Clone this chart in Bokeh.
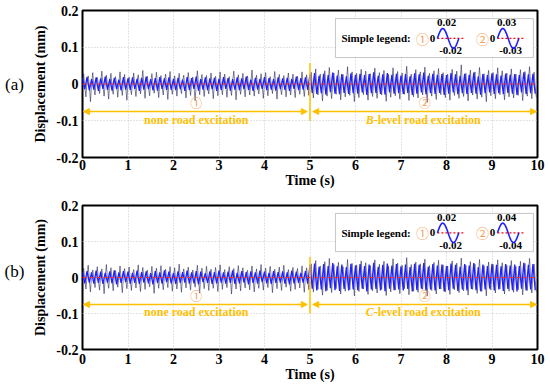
import numpy as np
from bokeh.plotting import figure
from bokeh.models import (Range1d, Label, Span, Arrow, NormalHead, FixedTicker,
                          CustomJSTickFormatter, BoxAnnotation)
from bokeh.layouts import column, row
from bokeh.embed import file_html
from bokeh.resources import INLINE

# ---------------- data (displacement in micrometres) ----------------
DARK_RATE = 40   # samples per second, thin dark trace
BLUE_RATE = 20   # samples per second, blue trace

# panel (a) dark trace, 0-5 s (no road excitation)
a_dark_1 = [3,28,-6,-35, 8,22,-4,-48, 2,31,-9,-30, 6,18,-3,-26, 4,35,-7,-33, 1,24,-5,-41, 7,29,-8,-28, 3,20,-2,-36, 5,33,-6,-31, 2,26,-9,-44,
            6,19,-4,-29, 3,30,-7,-34, 8,25,-3,-27, 1,37,-6,-39, 4,21,-8,-32, 7,28,-2,-25, 2,32,-5,-37, 5,23,-9,-30, 3,27,-4,-42, 6,34,-7,-28,
            1,22,-3,-33, 4,29,-6,-26, 8,24,-8,-38, 2,31,-4,-31, 5,19,-7,-45, 3,36,-2,-29, 7,26,-5,-34, 1,23,-9,-27, 4,30,-3,-40, 6,21,-6,-32,
            2,33,-8,-29, 5,27,-4,-36, 3,20,-7,-31, 8,35,-2,-43, 1,25,-5,-28, 4,29,-9,-35, 6,22,-3,-30, 2,38,-6,-33, 5,24,-8,-27, 3,28,-4,-39,
            7,31,-7,-32, 1,20,-2,-26, 4,34,-5,-41, 6,26,-9,-29, 2,23,-3,-35, 5,30,-6,-30, 3,27,-8,-37, 8,21,-4,-28, 1,33,-7,-34, 4,25,-2,-31]
# panel (a) dark trace, 5-10 s (B-level road)
a_dark_2 = [4,32,-8,-38, 7,41,-5,-30, 2,27,-10,-46, 9,36,-4,-33, 5,45,-7,-40, 3,30,-9,-28, 8,38,-3,-43, 1,26,-6,-35, 6,47,-8,-31, 4,33,-5,-48,
            7,29,-10,-37, 2,40,-4,-29, 9,35,-7,-44, 5,28,-3,-34, 3,43,-9,-39, 8,31,-6,-30, 1,37,-5,-47, 6,26,-8,-36, 4,44,-4,-32, 7,34,-10,-41,
            2,30,-7,-28, 9,48,-3,-45, 5,27,-6,-35, 3,39,-9,-38, 8,33,-5,-30, 1,46,-8,-50, 6,29,-4,-33, 4,36,-10,-42, 7,42,-7,-29, 2,31,-3,-37,
            9,27,-6,-44, 5,40,-9,-31, 3,35,-5,-39, 8,52,-8,-34, 1,29,-4,-46, 6,38,-10,-30, 4,33,-7,-41, 7,45,-3,-36, 2,28,-6,-48, 9,37,-9,-32,
            5,31,-5,-40, 3,44,-8,-29, 8,36,-4,-43, 1,30,-10,-35, 6,41,-7,-38, 4,27,-3,-31, 7,39,-6,-45, 2,34,-9,-33, 9,47,-5,-40, 5,32,-8,-36]
# panel (b) dark trace, 0-5 s
b_dark_1 = [5,26,-4,-32, 2,34,-8,-40, 7,21,-5,-28, 3,30,-9,-35, 6,24,-3,-45, 1,36,-7,-30, 4,27,-6,-37, 8,19,-2,-27, 2,32,-8,-42, 5,25,-4,-31,
            3,29,-7,-36, 7,22,-5,-29, 1,35,-9,-39, 4,28,-3,-33, 6,20,-6,-26, 2,31,-8,-44, 5,26,-4,-30, 8,33,-7,-34, 3,23,-2,-28, 6,30,-5,-38,
            1,27,-9,-32, 4,37,-3,-41, 7,24,-6,-29, 2,29,-8,-35, 5,21,-4,-27, 3,34,-7,-43, 8,26,-5,-31, 1,31,-2,-36, 4,23,-9,-30, 6,28,-6,-39,
            2,35,-3,-33, 5,22,-8,-28, 7,30,-4,-46, 3,25,-7,-32, 1,33,-5,-37, 6,27,-9,-29, 4,20,-3,-34, 8,32,-6,-40, 2,24,-8,-30, 5,36,-4,-35,
            3,26,-7,-28, 7,31,-2,-42, 1,23,-5,-31, 4,29,-9,-36, 6,34,-3,-27, 2,22,-6,-38, 5,28,-8,-33, 8,25,-4,-29, 3,32,-7,-41, 6,27,-5,-34]
# panel (b) dark trace, 5-10 s (C-level road)
b_dark_2 = [6,38,-9,-40, 3,47,-6,-33, 9,32,-11,-49, 5,44,-4,-36, 2,53,-8,-42, 8,36,-10,-31, 4,42,-5,-46, 7,30,-7,-38, 3,50,-9,-34, 9,39,-4,-51,
            5,35,-11,-39, 2,46,-6,-32, 8,41,-8,-47, 4,33,-5,-37, 6,49,-10,-43, 3,37,-7,-33, 9,45,-4,-50, 5,31,-9,-40, 2,52,-6,-35, 7,40,-11,-45,
            4,34,-8,-31, 8,55,-5,-48, 3,36,-7,-38, 6,43,-10,-41, 9,38,-4,-33, 5,51,-9,-52, 2,33,-6,-36, 7,42,-11,-46, 4,48,-8,-32, 8,35,-5,-40,
            3,32,-7,-47, 6,46,-10,-34, 9,40,-4,-42, 5,54,-9,-37, 2,34,-6,-49, 7,44,-11,-33, 4,37,-8,-44, 8,50,-5,-39, 3,33,-7,-51, 6,43,-10,-35,
            9,36,-4,-43, 5,49,-9,-32, 2,41,-6,-46, 7,34,-11,-38, 4,47,-8,-41, 8,31,-5,-34, 3,45,-7,-48, 6,39,-10,-36, 9,53,-4,-43, 5,37,-9,-39]

a_blue_1 = [16,-14,19,-17,13,-15,18,-19,15,-13,20,-16,14,-18,17,-14,12,-17,19,-15,
            15,-16,18,-13,14,-19,17,-15,20,-14,13,-17,16,-18,19,-13,15,-16,18,-15,
            14,-17,17,-14,12,-19,19,-16,16,-13,20,-18,13,-15,18,-17,15,-14,17,-19,
            14,-16,19,-13,16,-18,13,-15,18,-17,15,-14,20,-16,12,-19,17,-15,14,-13,
            19,-17,16,-15,13,-18,18,-14,15,-16,17,-19,14,-13,20,-17,16,-15,18,-16]
a_blue_2 = [26,-24,30,-27,22,-25,28,-29,24,-22,31,-26,23,-28,27,-24,21,-27,29,-25,
            25,-26,28,-23,24,-30,27,-25,32,-24,22,-27,26,-29,30,-23,25,-26,28,-25,
            23,-27,27,-24,21,-30,29,-26,26,-23,31,-28,22,-25,28,-27,25,-24,27,-30,
            24,-26,30,-23,26,-28,22,-25,28,-27,25,-24,31,-26,21,-29,27,-25,24,-23,
            29,-27,26,-25,23,-28,28,-24,25,-26,27,-30,24,-23,32,-27,26,-25,28,-26]
b_blue_1 = [15,-16,18,-14,14,-17,19,-15,16,-18,13,-14,17,-16,20,-19,14,-15,18,-13,
            16,-17,13,-15,19,-18,15,-14,17,-16,12,-19,18,-15,14,-17,20,-13,16,-16,
            13,-18,17,-15,15,-14,19,-17,14,-16,18,-19,16,-13,12,-15,17,-18,15,-16,
            19,-14,14,-17,16,-15,20,-18,13,-16,18,-14,15,-19,17,-15,14,-17,19,-13,
            16,-16,13,-18,18,-15,15,-14,17,-17,14,-19,19,-16,16,-15,13,-14,18,-17]
b_blue_2 = [34,-31,39,-36,30,-33,37,-38,32,-30,40,-35,31,-37,36,-32,29,-36,38,-33,
            33,-35,37,-31,32,-39,36,-33,41,-32,30,-36,35,-38,39,-31,33,-35,37,-33,
            31,-36,36,-32,29,-39,38,-35,35,-31,40,-37,30,-33,37,-36,33,-32,36,-39,
            32,-35,39,-31,35,-37,30,-33,37,-36,33,-32,40,-35,29,-38,36,-33,32,-31,
            38,-36,35,-33,31,-37,37,-32,33,-35,36,-39,32,-31,41,-36,35,-33,37,-35]

x_ticks = [0, 1, 2, 3, 4, 5, 6, 7, 8, 9, 10]
y_ticks = [-0.2, -0.1, 0, 0.1, 0.2]
split_time = 5
legend_amps = {"a": (0.02, 0.03), "b": (0.02, 0.04)}
road_levels = {"a": "B", "b": "C"}

GOLD = "#FFC000"
ORANGE = "#F5A05A"
SERIF = "Liberation Serif"
CJK = "Noto Sans CJK SC"
LETTER_W = 28


def make_letter(tag, height, y_frac):
    q = figure(width=LETTER_W, height=height, output_backend="svg", toolbar_location=None,
               x_range=Range1d(0, 1), y_range=Range1d(0, 1),
               x_axis_location=None, y_axis_location=None,
               min_border_left=0, min_border_right=0, min_border_top=0, min_border_bottom=0)
    q.xgrid.visible = False
    q.ygrid.visible = False
    q.outline_line_color = None
    q.background_fill_color = "white"
    q.border_fill_color = "white"
    q.add_layout(Label(x=0.5, y=y_frac, text=f"({tag})", text_align="center",
                       text_baseline="middle", text_font=SERIF, text_font_size="17px",
                       text_color="black"))
    return q


def make_panel(tag, dark, blue, height, top, frame_h, label_standoff):
    bottom = height - top - frame_h
    p = figure(width=545 - LETTER_W, height=height, output_backend="svg", toolbar_location=None,
               x_range=Range1d(0, 10), y_range=Range1d(-0.2, 0.2),
               min_border_left=82 - LETTER_W, min_border_right=8, min_border_top=top,
               min_border_bottom=bottom)
    p.background_fill_color = "white"
    p.border_fill_color = "white"
    p.outline_line_color = "black"
    p.outline_line_width = 2

    # grid
    for g in (p.xgrid, p.ygrid):
        g.grid_line_color = "#c8c8c8"
        g.grid_line_dash = "1 2"
        g.grid_line_width = 1
    p.xaxis.ticker = FixedTicker(ticks=x_ticks)
    p.yaxis.ticker = FixedTicker(ticks=y_ticks)
    p.yaxis.formatter = CustomJSTickFormatter(code="return tick == 0 ? '0' : tick.toFixed(1);")
    for ax in (p.xaxis, p.yaxis):
        ax.axis_line_color = None
        ax.major_tick_line_color = None
        ax.minor_tick_line_color = None
        ax.major_tick_out = 0
        ax.major_tick_in = 0
        ax.minor_tick_out = 0
        ax.minor_tick_in = 0
        ax.major_label_text_font = SERIF
        ax.major_label_text_font_style = "bold"
        ax.major_label_text_font_size = "14px"
        ax.major_label_text_color = "black"
        ax.axis_label_text_font = SERIF
        ax.axis_label_text_font_style = "bold"
        ax.axis_label_text_font_size = "14px"
        ax.axis_label_text_color = "black"
    p.xaxis.axis_label = "Time (s)"
    p.yaxis.axis_label = "Displacement (mm)"
    p.xaxis.major_label_standoff = label_standoff
    p.xaxis.axis_label_standoff = 0
    p.yaxis.major_label_standoff = 4
    p.yaxis.axis_label_standoff = 5

    # traces
    d = np.array(dark) / 1000.0
    b = np.array(blue) / 1000.0
    td = np.arange(len(d)) / DARK_RATE
    tb = np.arange(len(b)) / BLUE_RATE
    p.line(td, d, line_color="#2b2b5c", line_alpha=0.75, line_width=0.8)
    p.line(tb, b, line_color="#1f1fff", line_width=1.3)
    p.add_layout(Span(location=0, dimension="width", line_color="#ff2a2a",
                      line_dash="4 3", line_width=1.2))

    # excitation annotations
    p.segment(x0=[split_time], y0=[-0.1], x1=[split_time], y1=[0.057],
              line_color=GOLD, line_width=1.5)
    for xs, xe in ((0.02, split_time - 0.06), (split_time + 0.06, 9.98)):
        p.add_layout(Arrow(x_start=xs, y_start=-0.075, x_end=xe, y_end=-0.075,
                           line_color=GOLD, line_width=1.5,
                           start=NormalHead(size=6, fill_color=GOLD, line_color=GOLD),
                           end=NormalHead(size=6, fill_color=GOLD, line_color=GOLD)))
    for x, t in ((2.5, "①"), (7.52, "②")):
        p.add_layout(Label(x=x, y=-0.05, text=t, text_align="center", text_baseline="middle",
                           text_font=CJK, text_font_size="12px", text_color=ORANGE))
    p.add_layout(Label(x=2.5, y=-0.097, text="none road excitation", text_align="center",
                       text_baseline="middle", text_font=SERIF, text_font_style="bold",
                       text_font_size="12px", text_color=GOLD))
    p.add_layout(Label(x=6.40, y=-0.097, text=road_levels[tag], text_align="right",
                       text_baseline="middle", text_font=SERIF, text_font_style="bold italic",
                       text_font_size="12px", text_color=GOLD))
    p.add_layout(Label(x=6.40, y=-0.097, text="-level road excitation", text_align="left",
                       text_baseline="middle", text_font=SERIF, text_font_style="bold",
                       text_font_size="12px", text_color=GOLD))

    # simple legend box
    p.add_layout(BoxAnnotation(left=5.56, right=9.91, bottom=0.072, top=0.178,
                               fill_color="white", fill_alpha=1, line_color="#444444",
                               line_width=1, level="underlay"))
    yc = 0.124
    p.add_layout(Label(x=5.69, y=yc, text="Simple legend:", text_align="left",
                       text_baseline="middle", text_font=SERIF, text_font_style="bold",
                       text_font_size="11px", text_color="black"))
    for k, (xc, amp) in enumerate(((7.47, legend_amps[tag][0]), (8.79, legend_amps[tag][1]))):
        p.add_layout(Label(x=xc, y=yc, text="①②"[k], text_align="center", text_baseline="middle",
                           text_font=CJK, text_font_size="13px", text_color=ORANGE))
        p.add_layout(Label(x=xc + 0.22, y=yc, text="0", text_align="center", text_baseline="middle",
                           text_font=SERIF, text_font_style="bold", text_font_size="11px",
                           text_color="black"))
        x0 = xc + 0.33
        x1 = x0 + 0.47
        p.line([x0, x1 + 0.1], [yc, yc], line_color="red", line_dash="2 2",
               line_width=1.2, level="overlay")
        wx = np.linspace(x0, x1, 40)
        wy = yc + 0.027 * np.sin(2 * np.pi * (wx - x0) / (x1 - x0))
        p.line(wx, wy, line_color="#1f1fff", line_width=1.6, level="overlay")
        p.add_layout(Label(x=x0 + 0.2, y=0.167, text=f"{amp:.2f}", text_align="center",
                           text_baseline="middle", text_font=SERIF, text_font_style="bold",
                           text_font_size="11px", text_color="black"))
        p.add_layout(Label(x=x0 + 0.29, y=0.09, text=f"-{amp:.2f}", text_align="center",
                           text_baseline="middle", text_font=SERIF, text_font_style="bold",
                           text_font_size="11px", text_color="black"))
    return p


pa = make_panel("a", a_dark_1 + a_dark_2, a_blue_1 + a_blue_2, 194, 10, 147, 2)
pb = make_panel("b", b_dark_1 + b_dark_2, b_blue_1 + b_blue_2, 194, 11, 144, 4)
la = make_letter("a", 194, 0.5)
lb = make_letter("b", 194, 0.541)

layout = column(row(la, pa, spacing=0), row(lb, pb, spacing=0), spacing=0)
open("out.html", "w").write(file_html(layout, INLINE))
